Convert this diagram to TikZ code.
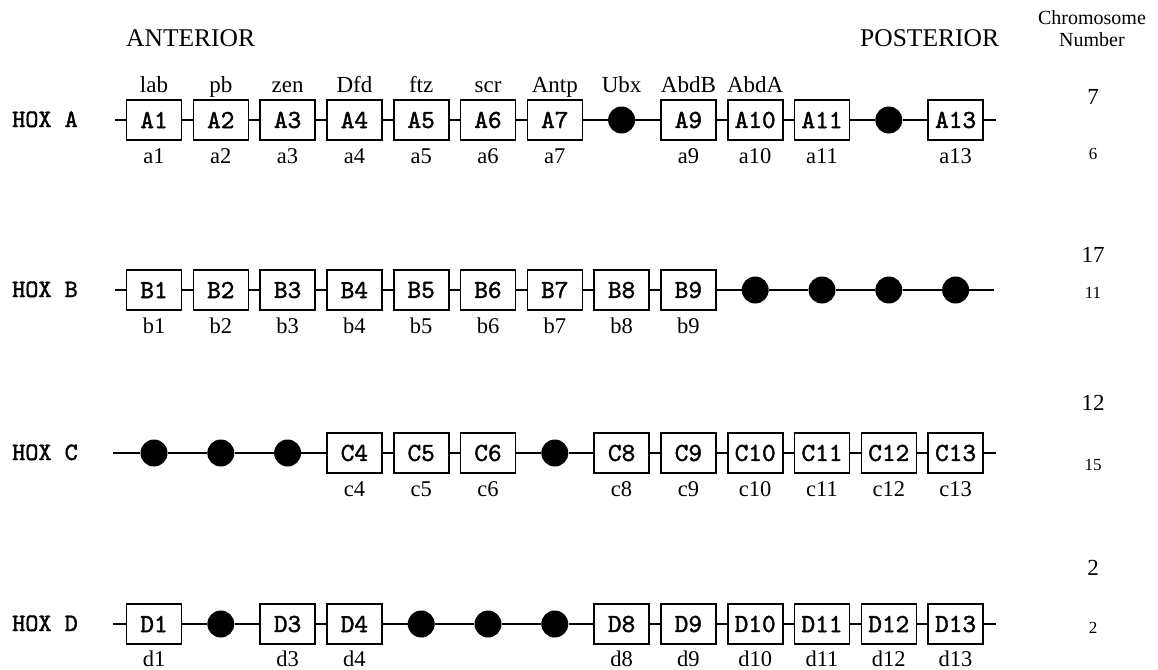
\documentclass[tikz,border=0pt]{standalone}
\usepackage{fontspec}
\setmainfont{Liberation Serif}
\newfontfamily\boxfont{lmmono10-regular.otf}[FakeBold=1.6]
\begin{document}
\begin{tikzpicture}[x=1pt,y=-1pt,
  gene/.style={draw, fill=white, line width=1.6pt, minimum width=55pt, minimum height=40pt, inner sep=0pt,
    font=\fontsize{26}{26}\selectfont\boxfont},
  blob/.style={circle, fill=black, minimum size=27pt, inner sep=0pt},
  sublab/.style={anchor=north, inner sep=0pt, text height=15pt, text depth=0pt,
    font=\fontsize{22.5}{22.5}\selectfont},
  toplab/.style={anchor=base, inner sep=0pt, font=\fontsize{23}{23}\selectfont},
  hoxlab/.style={anchor=base west, inner sep=0pt, font=\fontsize{25}{25}\selectfont\boxfont},
  hdr/.style={anchor=base west, inner sep=0pt, font=\fontsize{25.5}{25.5}\selectfont},
  chr/.style={anchor=base, inner sep=0pt, font=\fontsize{20}{20}\selectfont},
  numbig/.style={anchor=base, inner sep=0pt, font=\fontsize{23}{23}\selectfont},
  numsmall/.style={anchor=base, inner sep=0pt, font=\fontsize{17}{17}\selectfont},
  chrline/.style={line width=1.5pt}
]
\useasboundingbox (0,0) rectangle (1158,669);

% headers
\node[hdr] (ant) at (126,47) {ANTERIOR};
\node[hdr] (post) at (860,47) {POSTERIOR};
\node[chr] (chrA) at (1092,25) {Chromosome};
\node[chr] (chrB) at (1092,47) {Number};

% top gene labels
\foreach \n/\t in {1/lab,2/pb,3/zen,4/Dfd,5/ftz,6/scr,7/Antp,8/Ubx,9/AbdB,10/AbdA}
  \node[toplab] (t\n) at ({154+66.8*(\n-1)},92) {\t};

% ---------- HOX A ----------
\node[hoxlab] (hA) at (12,127) {HOX A};
\coordinate (As) at (115,120);
\coordinate (Ae) at (996,120);
\foreach \n in {1,...,7,9,10,11,13}
  \node[gene] (A\n) at ({154+66.8*(\n-1)},120) {A\n};
\foreach \n in {8,12}
  \node[blob] (A\n) at ({154+66.8*(\n-1)},120) {};
\foreach \n [remember=\n as \p (initially s)] in {1,...,13,e}
  \draw[chrline] (A\p) -- (A\n);
\foreach \n in {1,...,7,9,10,11,13}
  \path (A\n.south) ++(0,7) node[sublab] (a\n) {a\n};
\node[numbig] (nA1) at (1093,104) {7};
\node[numsmall] (nA2) at (1093,159) {6};

% ---------- HOX B ----------
\node[hoxlab] (hB) at (12,297) {HOX B};
\coordinate (Bs) at (115,290);
\coordinate (Be) at (994,290);
\foreach \n in {1,...,9}
  \node[gene] (B\n) at ({154+66.8*(\n-1)},290) {B\n};
\foreach \n in {10,...,13}
  \node[blob] (B\n) at ({154+66.8*(\n-1)},290) {};
\foreach \n [remember=\n as \p (initially s)] in {1,...,13,e}
  \draw[chrline] (B\p) -- (B\n);
\foreach \n in {1,...,9}
  \path (B\n.south) ++(0,7) node[sublab] (b\n) {b\n};
\node[numbig] (nB1) at (1093,262) {17};
\node[numsmall] (nB2) at (1093,298) {11};

% ---------- HOX C ----------
\node[hoxlab] (hC) at (12,460) {HOX C};
\coordinate (Cs) at (113,453);
\coordinate (Ce) at (996,453);
\foreach \n in {4,5,6,8,9,10,11,12,13}
  \node[gene] (C\n) at ({154+66.8*(\n-1)},453) {C\n};
\foreach \n in {1,2,3,7}
  \node[blob] (C\n) at ({154+66.8*(\n-1)},453) {};
\foreach \n [remember=\n as \p (initially s)] in {1,...,13,e}
  \draw[chrline] (C\p) -- (C\n);
\foreach \n in {4,5,6,8,9,10,11,12,13}
  \path (C\n.south) ++(0,7) node[sublab] (c\n) {c\n};
\node[numbig] (nC1) at (1093,410) {12};
\node[numsmall] (nC2) at (1093,470) {15};

% ---------- HOX D ----------
\node[hoxlab] (hD) at (12,631) {HOX D};
\coordinate (Ds) at (113,624);
\coordinate (De) at (996,624);
\foreach \n in {1,3,4,8,9,10,11,12,13}
  \node[gene] (D\n) at ({154+66.8*(\n-1)},624) {D\n};
\foreach \n in {2,5,6,7}
  \node[blob] (D\n) at ({154+66.8*(\n-1)},624) {};
\foreach \n [remember=\n as \p (initially s)] in {1,...,13,e}
  \draw[chrline] (D\p) -- (D\n);
\foreach \n in {1,3,4,8,9,10,11,12,13}
  \path (D\n.south) ++(0,6) node[sublab] (d\n) {d\n};
\node[numbig] (nD1) at (1093,575) {2};
\node[numsmall] (nD2) at (1093,633) {2};
\end{tikzpicture}
\end{document}
